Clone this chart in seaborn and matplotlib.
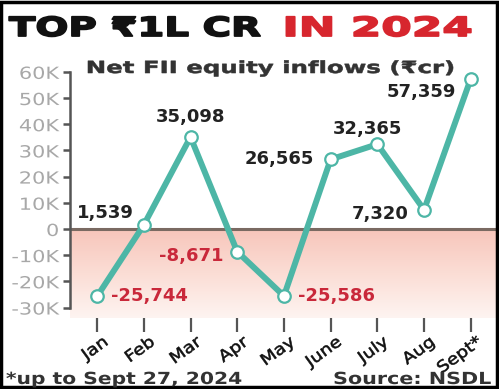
import matplotlib
matplotlib.use("Agg")
import numpy as np
import pandas as pd
import matplotlib.pyplot as plt
import seaborn as sns
from matplotlib.colors import LinearSegmentedColormap
from matplotlib.patches import Rectangle
from matplotlib.patheffects import AbstractPathEffect
from matplotlib.transforms import Affine2D, ScaledTranslation

# Monthly net FII equity inflows, 2024 (Rs crore)
months = ["Jan", "Feb", "Mar", "Apr", "May", "June", "July", "Aug", "Sept*"]
inflows = [-25744, 1539, 35098, -8671, -25586, 26565, 32365, 7320, 57359]
value_labels = ["-25,744", "1,539", "35,098", "-8,671", "-25,586",
                "26,565", "32,365", "7,320", "57,359"]

y_ticks = [-30000, -20000, -10000, 0, 10000, 20000, 30000, 40000, 50000, 60000]
y_tick_labels = ["-30K", "-20K", "-10K", "0", "10K", "20K", "30K", "40K", "50K", "60K"]

title_black = "TOP ₹1L CR"
title_red = "IN 2024"
subtitle = "Net FII equity inflows (₹cr)"
footnote = "*up to Sept 27, 2024"
source = "Source: NSDL"

TEAL = "#4DB6A6"
RED = "#C9283A"
INK = "#222222"
W, H = 499, 389


class Widen(AbstractPathEffect):
    """Draw text glyphs stretched horizontally about an anchor (0=left, 1=right),
    optionally with an outline stroke to thicken the letters."""

    def __init__(self, sx, anchor=0.0, stroke=0.0):
        super().__init__()
        self.sx = sx
        self.anchor = anchor
        self.stroke = stroke

    def draw_path(self, renderer, gc, tpath, affine, rgbFace=None):
        ext = tpath.get_extents()
        x0 = ext.x0 + self.anchor * ext.width
        stretch = Affine2D().translate(-x0, 0).scale(self.sx, 1).translate(x0, 0)
        if self.stroke > 0 and rgbFace is not None:
            gc0 = renderer.new_gc()
            gc0.copy_properties(gc)
            gc0.set_linewidth(self.stroke)
            gc0.set_foreground(rgbFace)
            gc0.set_joinstyle("round")
            renderer.draw_path(gc0, tpath, stretch + affine, rgbFace)
            gc0.restore()
        else:
            renderer.draw_path(gc, tpath, stretch + affine, rgbFace)


def wide_text(fig, x_px, y_px, s, width_px, ha="left", stroke=0.0, **kw):
    """Place a text whose drawn width is width_px pixels."""
    t = fig.text(x_px / W, 1 - y_px / H, s, ha=ha, **kw)
    fig.canvas.draw()
    w = t.get_window_extent().width
    anchor = {"left": 0.0, "center": 0.5, "right": 1.0}[ha]
    t.set_path_effects([Widen(width_px / w, anchor, stroke)])
    return t


sns.set_style("white")
plt.rcParams["font.family"] = ["DejaVu Sans"]

df = pd.DataFrame({"pos": np.arange(len(months)), "month": months, "value": inflows})

fig = plt.figure(figsize=(W / 100, H / 100), dpi=100)
ax = fig.add_axes([70 / W, 71 / H, 426 / W, 251.4 / H])

x_lo, x_hi = -0.58, 8.54
y_lo, y_hi = -34000, 62000
ax.set_xlim(x_lo, x_hi)
ax.set_ylim(y_lo, y_hi)

# pink wash below the zero line
pink = LinearSegmentedColormap.from_list("pinkwash", ["#FEF4F1", "#FBDDD5", "#F7C5BA"])
grad = np.linspace(0, 1, 256).reshape(-1, 1)
ax.imshow(grad, cmap=pink, origin="lower", aspect="auto",
          extent=(x_lo, x_hi, y_lo, 0), zorder=0)
ax.axhline(0, color="#7A6A62", lw=2.2, zorder=1)

sns.lineplot(data=df, x="pos", y="value", ax=ax, color=TEAL, lw=4.3,
             marker="o", markersize=9, markerfacecolor="white",
             markeredgecolor=TEAL, markeredgewidth=1.6, zorder=3)

# label placement: (dx px, dy px, ha)
placement = [
    (14, 0, "left"), (-10, 12, "right"), (0, 20, "center"),
    (-14, -4, "right"), (14, 0, "left"), (-17, 0, "right"),
    (-10, 15, "center"), (-15, -4, "right"), (-15, -13, "right"),
]
for i, (val, txt) in enumerate(zip(inflows, value_labels)):
    dx, dy, ha = placement[i]
    ax.annotate(txt, (i, val), xytext=(dx, dy), textcoords="offset pixels",
                ha=ha, va="center", fontsize=13, fontweight="bold",
                color=RED if val < 0 else INK, zorder=4)

# axes styling
for side in ["top", "right", "bottom"]:
    ax.spines[side].set_visible(False)
ax.spines["left"].set_bounds(-30000, 60000)
ax.spines["left"].set_color("#555555")
ax.spines["left"].set_linewidth(1.8)

ax.set_yticks(y_ticks)
ax.set_yticklabels(y_tick_labels)
ax.tick_params(axis="y", direction="out", length=5, width=1.8, color="#555555",
               labelsize=12, labelcolor="#A8A8A8", pad=3, left=True)
for lab in ax.get_yticklabels():
    lab.set_path_effects([Widen(1.25, 1.0)])

ax.set_xticks(df["pos"])
ax.set_xticklabels(months, rotation=36, ha="right", rotation_mode="anchor")
ax.tick_params(axis="x", direction="out", length=10, width=1.6, color="#555555",
               labelsize=11.5, labelcolor="#111111", pad=3, bottom=True)
shift = ScaledTranslation(5 / 100, 2 / 100, fig.dpi_scale_trans)
for lab in ax.get_xticklabels():
    lab.set_transform(lab.get_transform() + shift)
    lab.set_path_effects([Widen(1.15, 1.0, 0.4)])
ax.set_xlabel("")
ax.set_ylabel("")
ax.grid(False)

# headings and notes
wide_text(fig, 9, 36, title_black, 252, stroke=1.3, fontsize=19, fontweight="heavy",
          color="#111111", va="baseline")
wide_text(fig, 284, 36, title_red, 190, stroke=1.3, fontsize=19, fontweight="heavy",
          color="#D7262E", va="baseline")
wide_text(fig, 270, 68, subtitle, 368, ha="center", stroke=0.4, fontsize=12,
          fontweight="bold", color="#333333", va="center")
wide_text(fig, 6, 379, footnote, 236, fontsize=12, fontweight="bold",
          color="#333333", va="center")
wide_text(fig, 491, 379, source, 158, ha="right", fontsize=12, fontweight="bold",
          color="#333333", va="center")

# outer frame
fig.patches.append(Rectangle((0.003, 0.004), 0.992, 0.992, transform=fig.transFigure,
                             fill=False, edgecolor="black", lw=2.5))

fig.savefig("out.png", dpi=100)
